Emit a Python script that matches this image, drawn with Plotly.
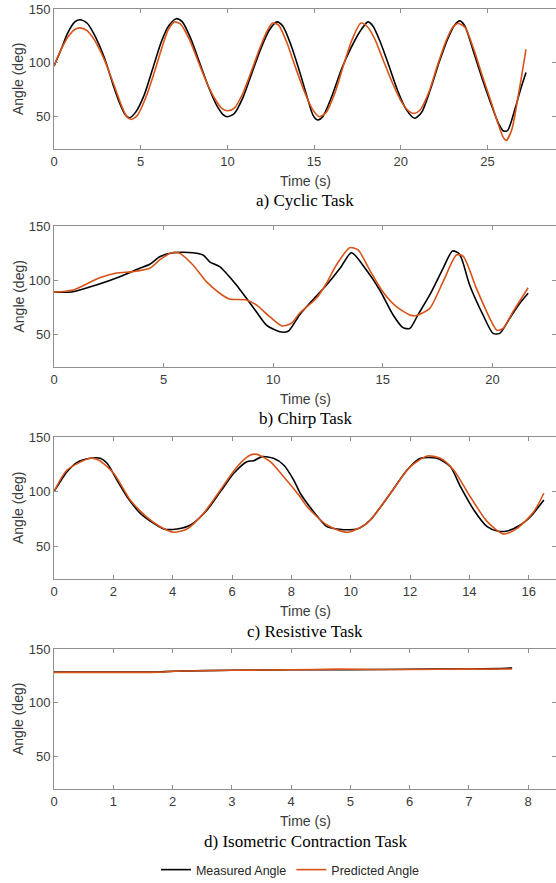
import plotly.graph_objects as go
from plotly.subplots import make_subplots

# ---------------- data ----------------
# a) Cyclic task
cyc_t_meas = [0.0, 0.4, 0.8, 1.2, 1.5, 1.9, 2.3, 2.9, 3.4, 3.8, 4.1, 4.35, 4.7, 5.2, 5.7, 6.2, 6.6, 7.05,
              7.4, 7.9, 8.4, 8.9, 9.4, 9.75, 10.0, 10.4, 10.9, 11.4, 11.9, 12.4, 12.85, 13.2, 13.7, 14.2,
              14.6, 14.95, 15.2, 15.5, 16.0, 16.6, 17.1, 17.6, 18.1, 18.4, 18.8, 19.3, 19.8, 20.3, 20.8,
              21.2, 21.7, 22.2, 22.7, 23.1, 23.4, 23.7, 24.2, 24.7, 25.2, 25.6, 25.9, 26.15, 26.6, 26.9, 27.22]
cyc_meas = [97, 112, 128, 138, 140, 137, 127, 105, 80, 62, 52, 49, 54, 70, 95, 120, 134, 141,
            138, 122, 100, 78, 60, 52, 50, 53, 68, 90, 112, 130, 138, 134, 115, 90,
            68, 51, 47, 50, 68, 95, 113, 128, 138, 134, 120, 98, 75, 57, 48.5,
            54, 75, 100, 122, 135, 139, 134, 110, 85, 62, 45, 37, 37, 58, 75, 91]
cyc_t_pred = [0.0, 0.4, 0.8, 1.2, 1.5, 1.9, 2.3, 2.9, 3.4, 3.9, 4.2, 4.45, 4.8, 5.3, 5.8, 6.3, 6.6, 6.95,
              7.3, 7.8, 8.3, 8.8, 9.3, 9.7, 10.0, 10.4, 10.9, 11.4, 11.9, 12.3, 12.6, 12.95, 13.4, 13.9,
              14.4, 14.9, 15.3, 15.7, 16.2, 16.7, 17.2, 17.7, 18.1, 18.5, 19.0, 19.5, 20.0, 20.4, 20.75,
              21.1, 21.6, 22.1, 22.6, 23.0, 23.3, 23.7, 24.2, 24.7, 25.2, 25.6, 25.9, 26.08, 26.4, 26.8, 27.22]
cyc_pred = [97, 112, 124, 131, 132.5, 130, 122, 103, 82, 60, 50, 47.5, 51, 68, 92, 118, 131, 138,
            136, 122, 102, 82, 66, 57.5, 55.5, 58, 72, 93, 115, 130, 137, 135, 120, 97,
            75, 57, 50, 54, 72, 98, 122, 137, 133, 122, 102, 82, 65, 56, 53,
            56, 72, 97, 120, 133, 136.5, 133, 113, 88, 64, 44, 31, 28, 38, 72, 112.5]

# b) Chirp task
chirp_t_meas = [0.0, 0.87, 1.93, 3.0, 3.91, 4.37, 4.82, 5.43, 6.34, 6.8, 7.1, 7.56, 7.86, 8.32, 8.78,
                9.23, 9.69, 10.3, 10.68, 11.2, 11.8, 12.43, 13.1, 13.57, 14.25, 14.86, 15.47, 15.92,
                16.23, 16.6, 17.14, 17.75, 18.18, 18.5, 18.96, 19.57, 20.03, 20.33, 20.79, 21.25, 21.63]
chirp_meas = [89, 89.4, 95.6, 103.3, 111, 114.7, 121.7, 125.4, 125.4, 123.3, 117, 112.5, 106.4, 95.6, 83.3,
              71, 58.7, 52.5, 53, 68, 81.8, 95.6, 112.5, 125.4, 109.4, 91, 68, 56.3,
              55.5, 68, 86.4, 111, 127, 124, 95.6, 68, 51, 51, 64.9, 78.7, 87.9]
chirp_t_pred = [0.0, 0.87, 2.08, 2.85, 3.6, 4.37, 4.82, 5.36, 5.73, 6.34, 6.95, 7.56, 8.0, 8.78, 9.23,
                9.84, 10.4, 10.83, 11.2, 11.97, 12.43, 12.88, 13.49, 13.87, 14.4, 15.0, 15.62, 16.23,
                16.53, 17.14, 17.75, 18.36, 18.66, 19.27, 19.88, 20.2, 20.48, 20.94, 21.63]
chirp_pred = [89, 91, 102.3, 106.7, 107.9, 111, 118.7, 125.4, 124.8, 114, 98.7, 88, 82.7, 81.8, 77.2,
              66.4, 57.8, 60.3, 69.5, 83.3, 97.2, 114, 130, 127.9, 109.4, 89.4, 75.6, 68,
              67.4, 74.1, 98.7, 123.3, 122.2, 92.5, 64.9, 54, 55.5, 71, 93.1]

# c) Resistive task
res_t_meas = [0.0, 0.44, 0.78, 1.22, 1.56, 1.79, 2.12, 2.46, 2.91, 3.36, 3.7, 4.15, 4.6, 5.16, 5.61,
              6.06, 6.5, 6.73, 7.01, 7.4, 7.74, 8.08, 8.3, 8.75, 9.2, 9.54, 10.22, 10.66, 11.34, 11.9,
              12.35, 12.91, 13.36, 13.7, 14.15, 14.6, 14.94, 15.27, 15.72, 16.06, 16.51]
res_meas = [100, 118.2, 126.8, 130.5, 130.5, 125.9, 110.6, 95.3, 80.1, 71, 65.8, 65.8, 69.4, 83.2, 100,
            116.8, 127.4, 128.3, 132, 130.5, 124.4, 110.6, 98.5, 81.6, 67.9, 65.8, 65.8, 74, 98.5, 119.8,
            130.5, 130.5, 122.8, 104.5, 83.2, 67.9, 63.9, 63.9, 69.4, 77, 92.3]
res_t_pred = [0.0, 0.44, 1.22, 1.5, 2.01, 2.57, 3.14, 3.58, 4.03, 4.48, 5.04, 5.61, 6.17, 6.62, 6.84,
              7.29, 7.74, 8.25, 8.53, 9.2, 9.88, 10.55, 11.34, 12.01, 12.58, 13.02, 13.47, 14.03, 14.6,
              15.16, 15.61, 16.17, 16.51]
res_pred = [100, 119.8, 130.5, 129, 116.8, 92.3, 76.5, 67.9, 62.8, 65.8, 80.1, 101.5, 122.8, 133.5, 134.1,
            127.4, 113.7, 96.9, 86.2, 69.4, 62.8, 71, 98.5, 122.8, 132.6, 130.5, 119.8, 95.3, 72.5,
            61.2, 66.4, 81.6, 98.5]

# d) Isometric contraction task
iso_t_meas = [0.0, 1.0, 1.7, 2.0, 3.0, 4.0, 5.0, 6.0, 7.0, 7.5, 7.73]
iso_meas = [128.5, 128.5, 128.7, 129.3, 130.3, 130.7, 130.8, 131.2, 131.4, 131.8, 132.4]
iso_t_pred = [0.0, 1.0, 1.8, 2.0, 3.0, 4.0, 4.8, 5.5, 6.0, 7.0, 7.73]
iso_pred = [128.3, 128.3, 128.5, 129.2, 130.2, 130.7, 131.3, 130.9, 131.0, 131.3, 131.4]

panels = [
    (cyc_t_meas, cyc_meas, cyc_t_pred, cyc_pred, "a) Cyclic Task", 28.95, 5),
    (chirp_t_meas, chirp_meas, chirp_t_pred, chirp_pred, "b) Chirp Task", 22.9, 5),
    (res_t_meas, res_meas, res_t_pred, res_pred, "c) Resistive Task", 16.92, 2),
    (iso_t_meas, iso_meas, iso_t_pred, iso_pred, "d) Isometric Contraction Task", 8.47, 1),
]
y_ticks = [50, 100, 150]
y_range = [20, 150]

# ---------------- figure ----------------
W, H = 556, 883
L = 54
tops = [9, 226, 437, 649]
bots = [149, 367, 579, 789]

fig = make_subplots(rows=4, cols=1)
BLACK = "#000000"
ORANGE = "#D95319"
AXC = "#8f8f8f"
TXT = "#3a3a3a"
SANS = "Liberation Sans, Arial, sans-serif"
SERIF = "Liberation Serif, Times New Roman, serif"

for i, (tm, ym, tp, yp, cap, xmax, dt) in enumerate(panels):
    r = i + 1
    fig.add_trace(go.Scatter(x=tm, y=ym, mode="lines", line=dict(color=BLACK, width=1.6, shape="spline", smoothing=0.7),
                             name="Measured Angle", showlegend=(i == 0), legendrank=1), row=r, col=1)
    fig.add_trace(go.Scatter(x=tp, y=yp, mode="lines", line=dict(color=ORANGE, width=1.6, shape="spline", smoothing=0.7),
                             name="Predicted Angle", showlegend=(i == 0), legendrank=2), row=r, col=1)
    dom = [1 - bots[i] / H, 1 - tops[i] / H]
    ax_common = dict(showline=True, linecolor=AXC, linewidth=1, mirror="ticks", ticks="inside",
                     ticklen=4, tickcolor=AXC, tickwidth=1, showgrid=False, zeroline=False,
                     automargin=False,
                     tickfont=dict(family=SANS, size=13, color=TXT))
    fig.update_xaxes(domain=[0, 1], range=[0, xmax], dtick=dt, tick0=0, row=r, col=1, **ax_common)
    fig.update_yaxes(domain=dom, range=y_range, tickvals=y_ticks, row=r, col=1, **ax_common)
    # x label
    fig.add_annotation(text="Time (s)", xref="paper", yref="paper", x=0.5, y=1 - (bots[i] + 32) / H,
                       xanchor="center", yanchor="middle", showarrow=False,
                       font=dict(family=SANS, size=14, color=TXT))
    # caption
    fig.add_annotation(text=cap, xref="paper", yref="paper", x=0.5, y=1 - (bots[i] + 52) / H,
                       xanchor="center", yanchor="middle", showarrow=False,
                       font=dict(family=SERIF, size=17, color="#000000"))
    # y label
    fig.add_annotation(text="Angle (deg)", xref="paper", yref="paper", x=(18 - L) / (W - L),
                       y=1 - (tops[i] + bots[i]) / 2 / H, textangle=-90,
                       xanchor="center", yanchor="middle", showarrow=False,
                       font=dict(family=SANS, size=14, color=TXT))

fig.update_layout(
    template="none",
    width=W, height=H,
    margin=dict(l=L, r=0, t=0, b=0, autoexpand=False),
    paper_bgcolor="white", plot_bgcolor="white",
    showlegend=True,
    legend=dict(orientation="h", x=0.47, xanchor="center", y=1 - 870 / H, yanchor="middle",
                font=dict(family=SANS, size=12.5, color="#262626"), bgcolor="rgba(0,0,0,0)",
                borderwidth=0),
)

fig.write_html("out.html", config={"displayModeBar": False},
               post_script="document.body.style.margin='0';document.body.style.overflow='hidden';")
